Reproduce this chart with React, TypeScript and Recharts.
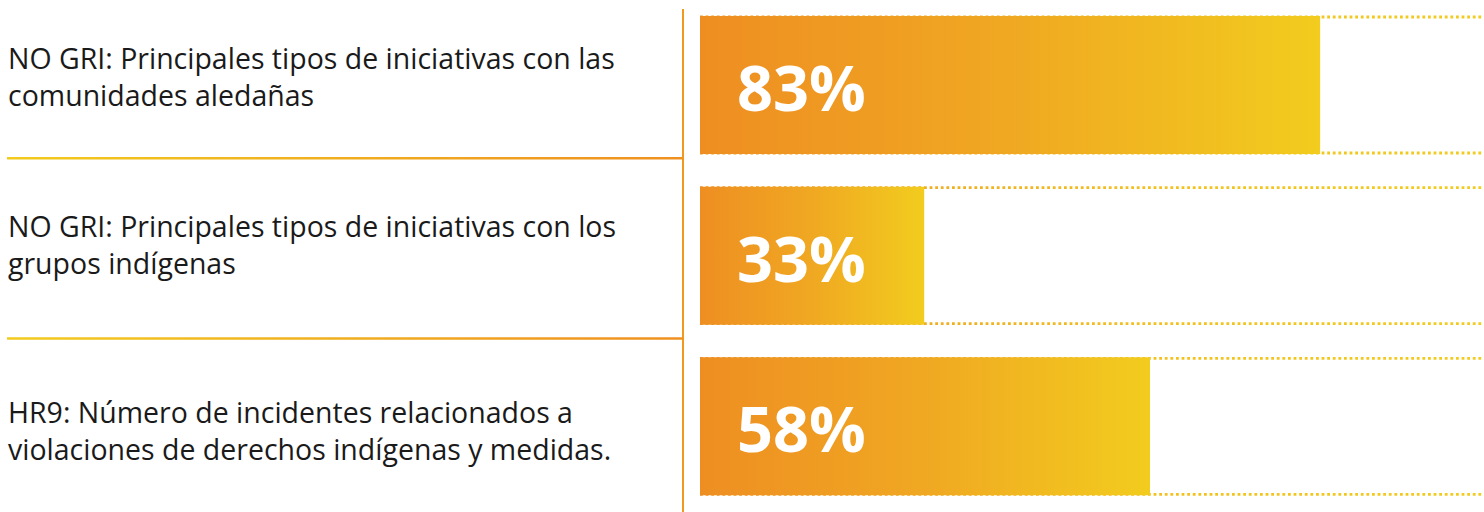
import React from "react";
import { BarChart, Bar, XAxis, YAxis, LabelList } from "recharts";

// ---- data ----
const categoryLines: string[][] = [
  ["NO GRI: Principales tipos de iniciativas con las", "comunidades aledañas"],
  ["NO GRI: Principales tipos de iniciativas con los", "grupos indígenas"],
  ["HR9: Número de incidentes relacionados a", "violaciones de derechos indígenas y medidas."],
];
const percentLabels: number[] = [83, 33, 58];
// bar lengths as drawn in the picture, on a 0–100 track
const barLengths: number[] = [79.1, 28.6, 57.4];

const data = categoryLines.map((lines, i) => ({
  name: `c${i}`,
  lines,
  value: barLengths[i],
  pct: percentLabels[i],
}));

// ---- layout / style ----
const W = 1484;
const H = 512;
const LEFT_W = 700;
const TEXT_X = 8;
const TEXT_SCALE = 0.95;
const LINE_GAP = 37;
const ROW_TEXT_DY = [-16.3, -18.5, -4];
const SEP_Y = [158.3, 338.5];
const SEP_X1 = 7;
const DIVIDER_X = 683;
const DIVIDER_TOP = 9;
const ORANGE = "#EE8E22";
const YELLOW = "#F2CC1E";

const LeftTick = (props: any) => {
  const { y, index } = props;
  const lines = categoryLines[index] || [];
  const base = y + ROW_TEXT_DY[index];
  return (
    <g>
      {index === 0 && (
        <g>
          <defs>
            <linearGradient id="sepGrad" gradientUnits="userSpaceOnUse" x1={SEP_X1} y1={0} x2={DIVIDER_X} y2={0}>
              <stop offset="0" stopColor="#F2CB1E" />
              <stop offset="1" stopColor="#EF9020" />
            </linearGradient>
          </defs>
          <line x1={DIVIDER_X} y1={DIVIDER_TOP} x2={DIVIDER_X} y2={H} stroke="#F29A1E" strokeWidth={2} />
          {SEP_Y.map((sy, k) => (
            <line key={k} x1={SEP_X1} y1={sy} x2={DIVIDER_X} y2={sy} stroke="url(#sepGrad)" strokeWidth={2.5} />
          ))}
        </g>
      )}
      <g transform={`translate(${TEXT_X},0) scale(${TEXT_SCALE},1)`}>
        {lines.map((t, k) => (
          <text
            key={k}
            x={0}
            y={base + k * LINE_GAP}
            fontFamily="'Open Sans', 'Noto Sans', sans-serif"
            fontSize={30}
            fill="#1a1a1a"
          >
            {t}
          </text>
        ))}
      </g>
    </g>
  );
};

const Track = (props: any) => {
  const { x, y, width, height, index } = props;
  const id = `trackGrad${index}`;
  return (
    <g>
      <defs>
        <linearGradient id={id} gradientUnits="userSpaceOnUse" x1={x} y1={0} x2={x + width} y2={0}>
          <stop offset="0" stopColor="#EF9A24" />
          <stop offset="0.6" stopColor="#F2C21F" />
          <stop offset="1" stopColor="#F2CC1E" />
        </linearGradient>
      </defs>
      <line x1={x} y1={y + 1} x2={x + width} y2={y + 1} stroke={`url(#${id})`} strokeWidth={2.8} strokeDasharray="2.8 2.8" />
      <line x1={x} y1={y + height - 1} x2={x + width} y2={y + height - 1} stroke={`url(#${id})`} strokeWidth={2.8} strokeDasharray="2.8 2.8" />
    </g>
  );
};

const PctLabel = (props: any) => {
  const { x, y, height, index } = props;
  return (
    <text
      x={x + 37}
      y={y + height / 2 + 26}
      fontFamily="'Open Sans', 'Noto Sans', sans-serif"
      fontWeight={700}
      fontSize={63}
      fill="#ffffff"
    >
      {`${percentLabels[index]}%`}
    </text>
  );
};

export default function App() {
  return (
    <div style={{ position: "absolute", left: 0, top: 0, width: W, height: H, background: "#fff" }}>
      <BarChart
        width={W}
        height={H}
        data={data}
        layout="vertical"
        margin={{ top: 0, right: 0, bottom: 0, left: 0 }}
      >
        <defs>
          <linearGradient id="barGrad" x1="0" y1="0" x2="1" y2="0">
            <stop offset="0" stopColor={ORANGE} />
            <stop offset="0.5" stopColor="#F0A822" />
            <stop offset="1" stopColor={YELLOW} />
          </linearGradient>
        </defs>
        <XAxis type="number" domain={[0, 100]} hide />
        <YAxis
          type="category"
          dataKey="name"
          width={LEFT_W}
          axisLine={false}
          tickLine={false}
          tick={<LeftTick />}
          interval={0}
        />
        <Bar
          dataKey="value"
          barSize={138}
          fill="url(#barGrad)"
          background={(p: any) => <Track {...p} />}
          isAnimationActive={false}
        >
          <LabelList dataKey="pct" content={<PctLabel />} />
        </Bar>
      </BarChart>
    </div>
  );
}
